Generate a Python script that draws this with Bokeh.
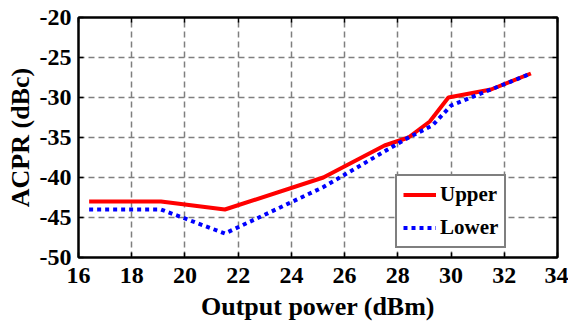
from bokeh.plotting import figure
from bokeh.models import FixedTicker, Legend, LegendItem, LinearAxis
from bokeh.embed import file_html
from bokeh.resources import INLINE

# Data
upper_x = [16.4, 19.1, 21.5, 25.2, 27.5, 28.4, 29.2, 29.9, 31.5, 33.0]
upper_y = [-43, -43, -44, -40, -36, -35, -33, -30, -29, -27]
lower_x = [16.4, 19.1, 21.5, 25.2, 28.4, 29.3, 30.0, 31.5, 33.0]
lower_y = [-44, -44, -47, -41.2, -35, -33.5, -31, -29, -27]
x_ticks = [16, 18, 20, 22, 24, 26, 28, 30, 32, 34]
y_ticks = [-50, -45, -40, -35, -30, -25, -20]

FONT = "Liberation Serif"

p = figure(width=568, height=323, x_range=(16, 34), y_range=(-50, -20),
           output_backend="svg", toolbar_location=None,
           min_border_left=78, min_border_right=11, min_border_top=17, min_border_bottom=50)

p.outline_line_color = "black"
p.outline_line_width = 2
p.background_fill_color = "white"
p.border_fill_color = "white"

for ax, ticks in ((p.xaxis, x_ticks), (p.yaxis, y_ticks)):
    ax.ticker = FixedTicker(ticks=ticks)
    ax.major_label_overrides = {t: str(t) for t in ticks}
    ax.major_label_text_font = FONT
    ax.major_label_text_font_style = "bold"
    ax.major_label_text_font_size = "24px"
    ax.major_label_text_color = "black"
    ax.axis_label_text_font = FONT
    ax.axis_label_text_font_style = "bold"
    ax.axis_label_text_font_size = "26px"
    ax.axis_label_text_color = "black"
    ax.axis_line_color = "black"
    ax.axis_line_width = 2
    ax.major_tick_in = 5
    ax.major_tick_out = 0
    ax.major_tick_line_width = 1.5
    ax.major_tick_line_color = "black"
    ax.minor_tick_line_color = None

p.xaxis.axis_label = "Output power (dBm)"
p.yaxis.axis_label = "ACPR (dBc)"
p.xaxis.major_label_standoff = 10
p.yaxis.major_label_standoff = 7
p.xaxis.axis_label_standoff = 6
p.yaxis.axis_label_standoff = 2

for loc, ticks in (("right", y_ticks), ("above", x_ticks)):
    a = LinearAxis(ticker=FixedTicker(ticks=ticks), major_label_text_color=None,
                   major_label_text_alpha=0,
                   major_label_standoff=0, major_tick_in=5, major_tick_out=0,
                   major_tick_line_width=1.5, minor_tick_line_color=None,
                   axis_line_color="black", axis_line_width=2)
    p.add_layout(a, loc)

for g in (p.xgrid, p.ygrid):
    g.grid_line_color = "#7f7f7f"
    g.grid_line_width = 1.5
    g.grid_line_dash = "6 4"
p.xgrid.ticker = FixedTicker(ticks=x_ticks)
p.ygrid.ticker = FixedTicker(ticks=y_ticks)

r_up = p.line(upper_x, upper_y, line_color="#ff0000", line_width=4)
r_lo = p.line(lower_x, lower_y, line_color="#0000ff", line_width=4, line_dash="4 4")

legend = Legend(items=[LegendItem(label="Upper", renderers=[r_up]),
                       LegendItem(label="Lower", renderers=[r_lo])],
                location=(317, 9))
legend.label_text_font = FONT
legend.label_text_font_style = "bold"
legend.label_text_font_size = "21px"
legend.label_text_color = "black"
legend.border_line_color = "black"
legend.border_line_width = 2
legend.background_fill_alpha = 1
legend.glyph_width = 33
legend.glyph_height = 25
legend.label_height = 25
legend.label_standoff = 4
legend.padding = 6
legend.spacing = 8
legend.margin = 0
p.add_layout(legend, "center")

open("out.html", "w").write(file_html(p, INLINE))
